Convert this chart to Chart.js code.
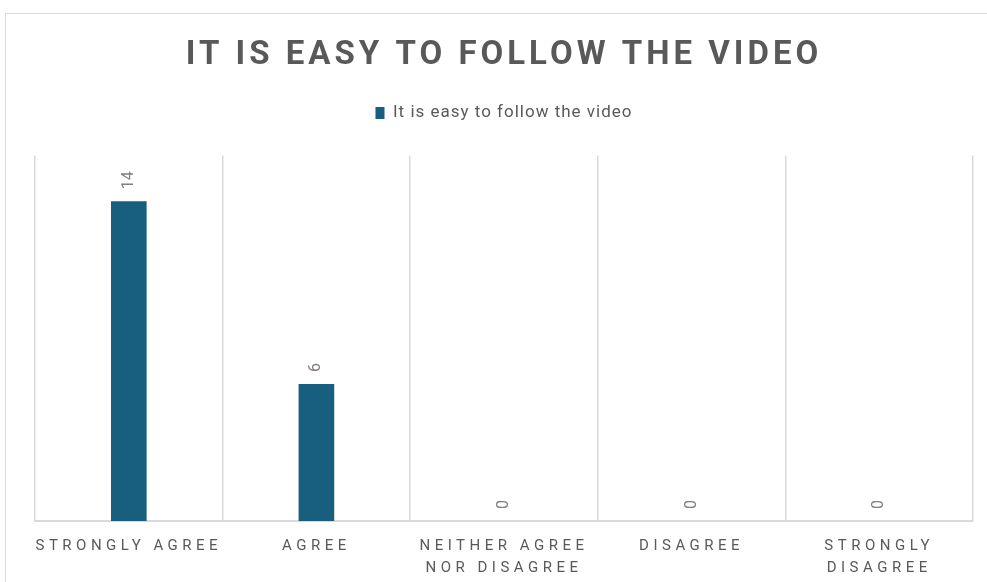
<!DOCTYPE html>
<html>
<head>
<meta charset="utf-8">
<title>It is easy to follow the video</title>
<script src="https://cdn.jsdelivr.net/npm/chart.js@4.4.1/dist/chart.umd.min.js"></script>
<style>
  html, body { margin: 0; padding: 0; background: #fff; overflow: hidden; }
  #frame {
    position: absolute;
    left: 5px;
    top: 13px;
    width: 998px;
    height: 600px;
    border: 1px solid #d9d9d9;
  }
  #surveyChart { display: block; }
</style>
</head>
<body>
<div id="frame">
  <canvas id="surveyChart" width="998" height="584"></canvas>
</div>
<script>
const categories = [
  'STRONGLY AGREE',
  'AGREE',
  ['NEITHER AGREE', 'NOR DISAGREE'],
  'DISAGREE',
  ['STRONGLY', 'DISAGREE']
];
const responses = [14, 6, 0, 0, 0];
const seriesName = 'It is easy to follow the video';

const barColor = '#185e7e';
const textColor = '#595959';
const lineColor = '#d9d9d9';

// canvas letterSpacing for the title, legend and axis labels
function spaced(obj, method, amount) {
  if (!obj || obj['_spaced_' + method]) return;
  const orig = obj[method];
  obj[method] = function (...args) {
    const ctx = this.ctx;
    const prev = ctx.letterSpacing;
    ctx.letterSpacing = amount;
    const out = orig.apply(this, args);
    ctx.letterSpacing = prev;
    return out;
  };
  obj['_spaced_' + method] = true;
}

const letterSpacing = {
  id: 'letterSpacing',
  afterUpdate(chart) {
    spaced(chart.titleBlock, 'draw', '4px');
    spaced(chart.legend, 'draw', '1px');
    spaced(chart.scales.x, 'drawLabels', '4.5px');
  }
};

// measure the legend with its spacing and push the plot area down below it
const legendGap = {
  id: 'legendGap',
  beforeInit(chart) {
    spaced(chart.legend, 'fit', '1px');
    const fit = chart.legend.fit;
    chart.legend.fit = function () {
      fit.bind(chart.legend)();
      this.height += 24;
    };
  }
};

// rotated value labels above each bar
const valueLabels = {
  id: 'valueLabels',
  afterDatasetsDraw(chart) {
    const ctx = chart.ctx;
    const meta = chart.getDatasetMeta(0);
    ctx.save();
    ctx.font = '16px Roboto';
    ctx.fillStyle = '#7f7f7f';
    ctx.textAlign = 'left';
    ctx.textBaseline = 'middle';
    meta.data.forEach((bar, i) => {
      ctx.save();
      ctx.translate(bar.x, bar.y - 12);
      ctx.rotate(-Math.PI / 2);
      ctx.fillText(String(responses[i]), 0, 0);
      ctx.restore();
    });
    ctx.restore();
  }
};

new Chart(document.getElementById('surveyChart'), {
  type: 'bar',
  data: {
    labels: categories,
    datasets: [{
      label: seriesName,
      data: responses,
      backgroundColor: barColor,
      borderWidth: 0,
      categoryPercentage: 1,
      barPercentage: 0.19
    }]
  },
  options: {
    responsive: false,
    animation: false,
    layout: {
      padding: { top: 0, left: 29, right: 31, bottom: 5 }
    },
    plugins: {
      title: {
        display: true,
        text: 'IT IS EASY TO FOLLOW THE VIDEO',
        color: textColor,
        font: { family: 'Roboto', size: 33, weight: 'bold' },
        padding: { top: 22, bottom: 19 }
      },
      legend: {
        position: 'top',
        labels: {
          color: textColor,
          font: { family: 'Roboto', size: 17 },
          boxWidth: 9,
          boxHeight: 12
        }
      },
      tooltip: { enabled: false }
    },
    scales: {
      x: {
        grid: {
          color: lineColor,
          lineWidth: 1.5,
          drawTicks: false,
          offset: true
        },
        border: { color: lineColor, width: 2 },
        ticks: {
          color: textColor,
          font: { family: 'Roboto', size: 15, lineHeight: 1.47 },
          padding: 14,
          maxRotation: 0,
          autoSkip: false
        }
      },
      y: {
        display: false,
        min: 0,
        max: 16
      }
    }
  },
  plugins: [letterSpacing, legendGap, valueLabels]
});
</script>
</body>
</html>
